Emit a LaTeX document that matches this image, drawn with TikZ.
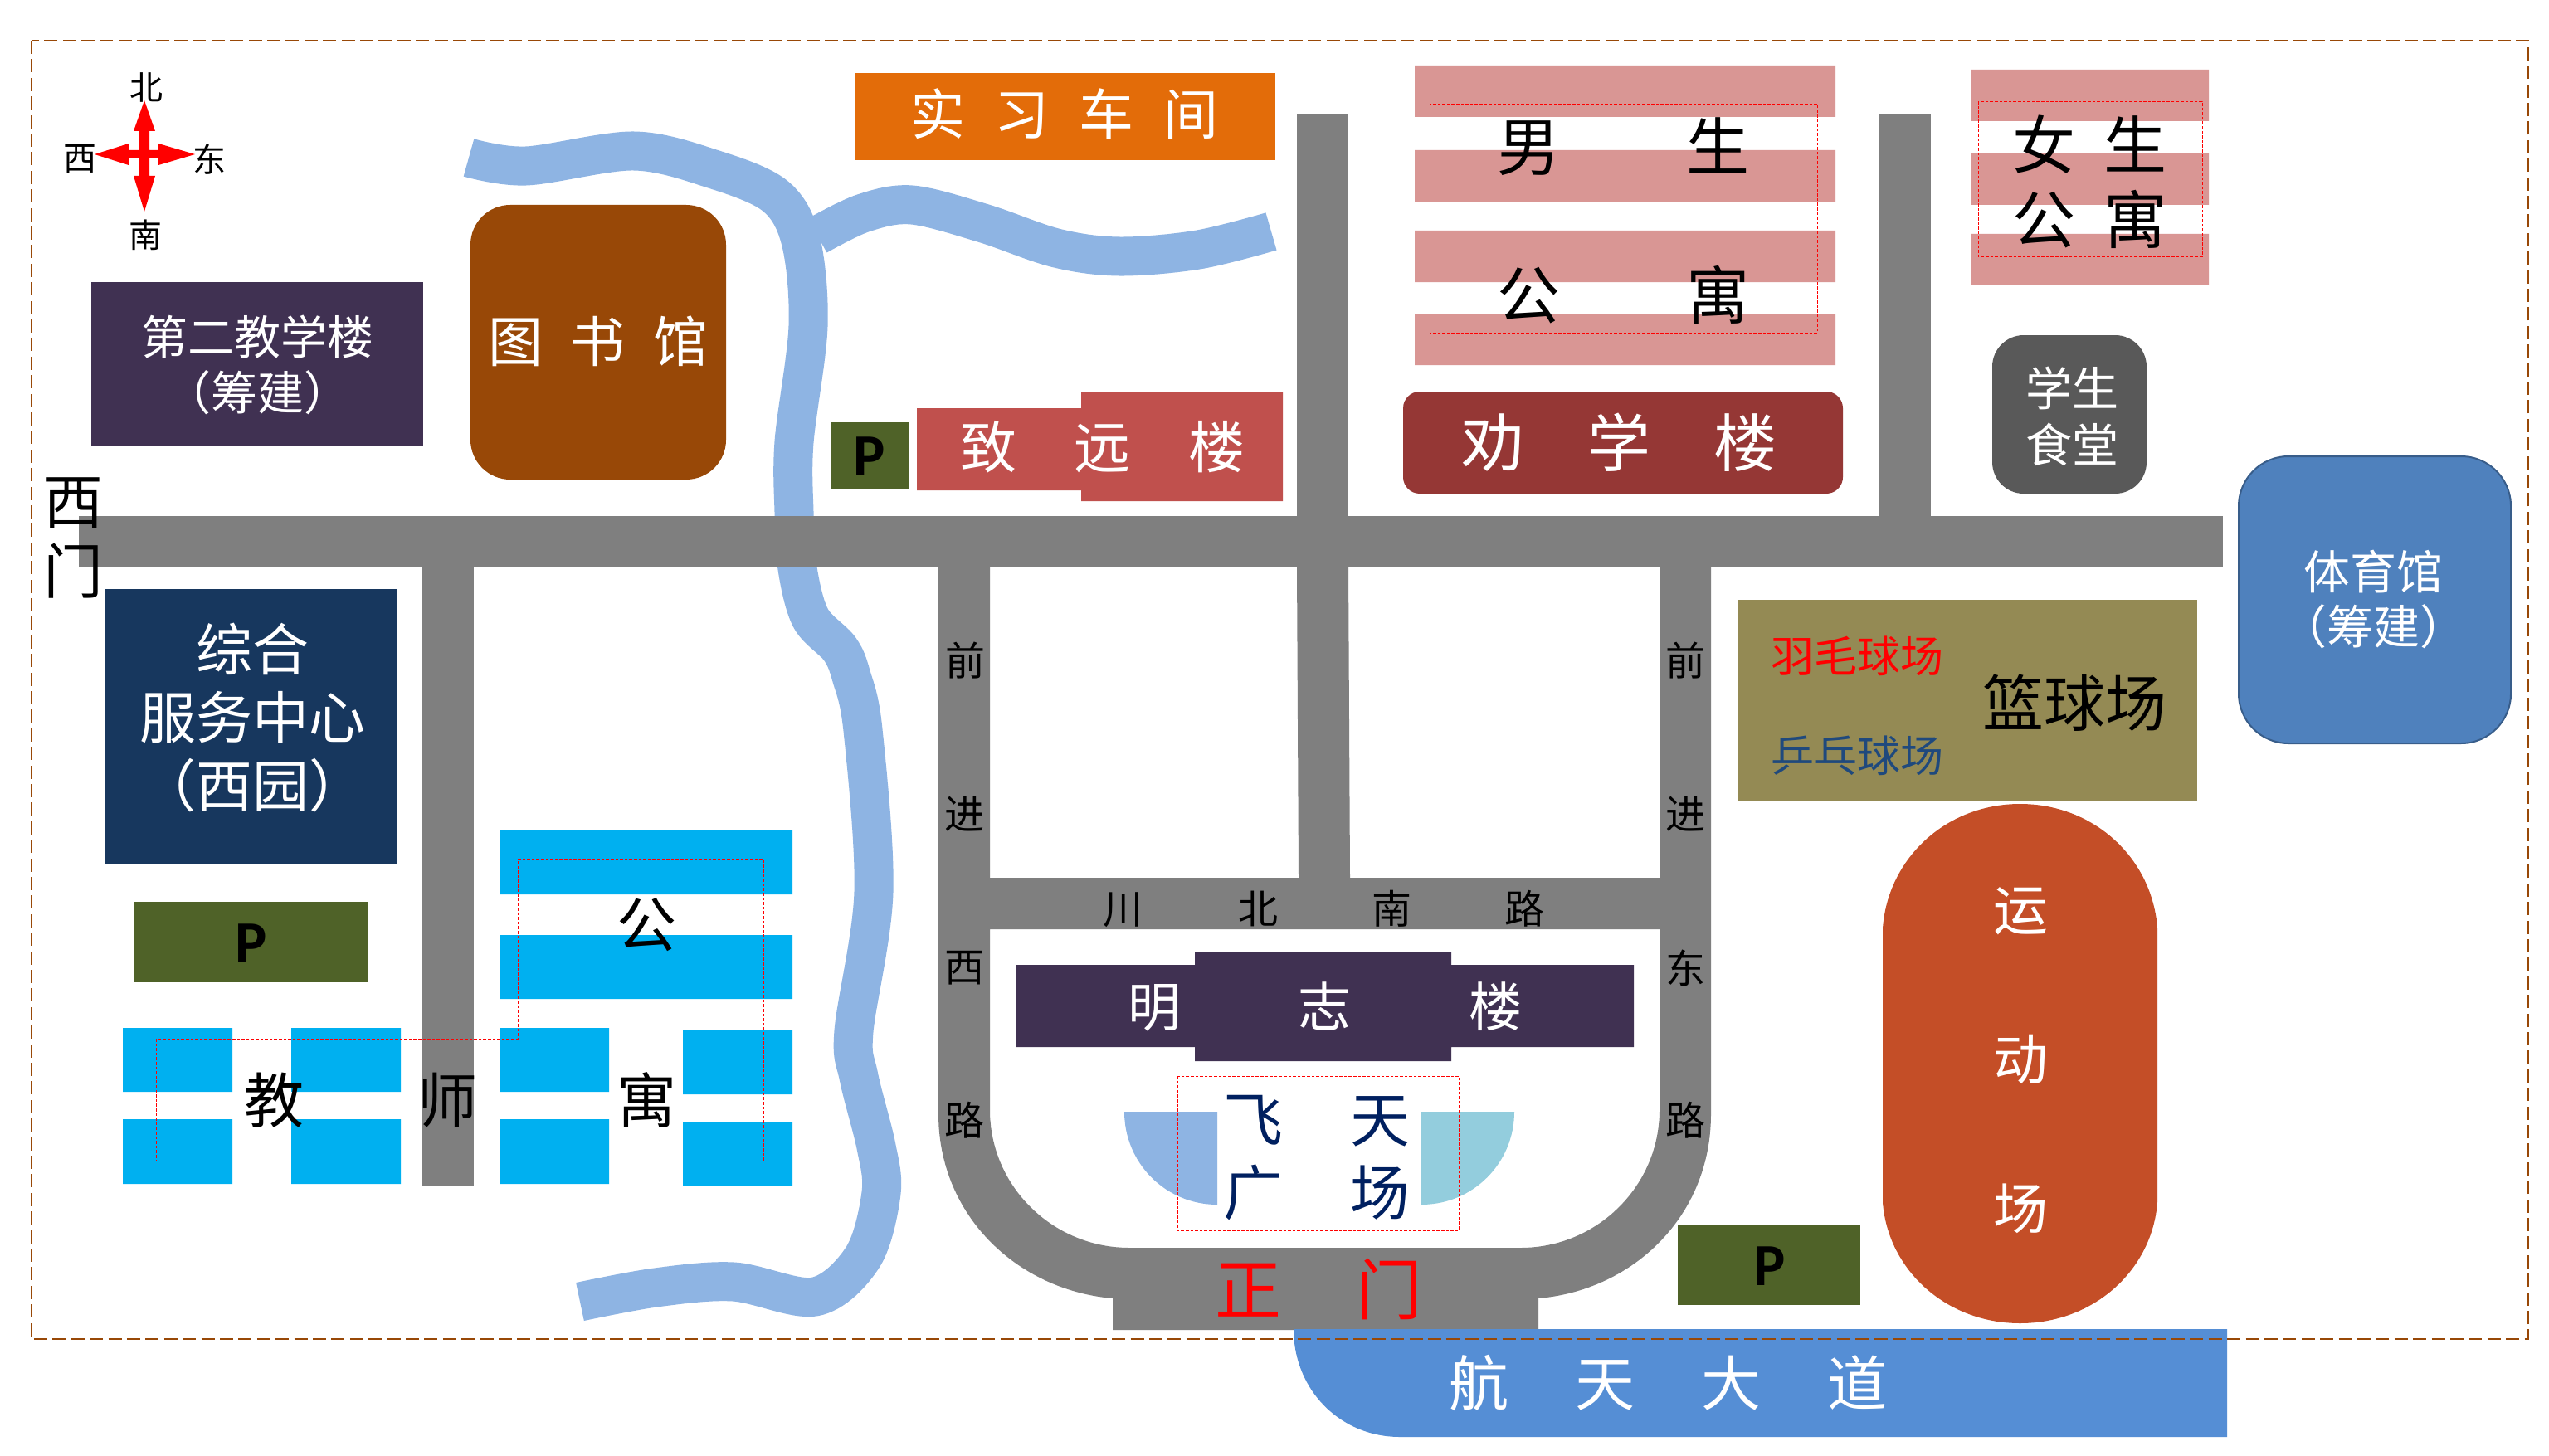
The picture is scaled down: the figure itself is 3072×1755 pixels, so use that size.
\documentclass[tikz,border=0pt]{standalone}
\usepackage{fontspec}
\setmainfont{Noto Sans CJK SC}
\newfontfamily\pfont{Carlito}[BoldFont=Carlito Bold]
\definecolor{roadc}{HTML}{7F7F7F}
\definecolor{riverc}{HTML}{8EB4E3}
\definecolor{edgec}{HTML}{984807}
\definecolor{purplec}{HTML}{403152}
\definecolor{libc}{HTML}{984807}
\definecolor{workc}{HTML}{E36C09}
\definecolor{pinkc}{HTML}{D99694}
\definecolor{redbc}{HTML}{C0504D}
\definecolor{darkrc}{HTML}{953735}
\definecolor{canteenc}{HTML}{595959}
\definecolor{gymc}{HTML}{4F81BD}
\definecolor{gymedge}{HTML}{385D8A}
\definecolor{courtc}{HTML}{948A54}
\definecolor{navyc}{HTML}{17375E}
\definecolor{parkc}{HTML}{4F6228}
\definecolor{skyc}{HTML}{00B0F0}
\definecolor{squarec}{HTML}{002060}
\definecolor{aquac}{HTML}{93CDDD}
\definecolor{avec}{HTML}{558ED5}
\definecolor{fieldc}{HTML}{C44E27}
\definecolor{pingc}{HTML}{1F497D}
\newcommand{\fz}[2]{\fontsize{#1}{#2}\selectfont}
\newcommand{\gp}[1]{\hspace{#1pt}}
\tikzset{
  txt/.style={inner sep=0pt,outer sep=0pt,align=center,text=white},
  blk/.style={inner sep=0pt,outer sep=0pt,align=center,text=black},
  ptxt/.style={inner sep=0pt,outer sep=0pt,text=black,font=\pfont\bfseries\fz{18}{18}},
  river/.style={draw=riverc,line width=11.75pt,line cap=butt,line join=round},
  road/.style={fill=roadc},
  thinbox/.style={draw=red,line width=.18pt,dash pattern=on .9pt off .5pt},
  edgebox/.style={draw=edgec,line width=.5pt,dash pattern=on 4pt off 1.6pt}
}
\begin{document}
\begin{tikzpicture}[x=0.25pt,y=-0.25pt]
\useasboundingbox (0,0) rectangle (3072,1755);
\fill[white] (0,0) rectangle (3072,1755);
% river
\draw[river] plot[smooth,tension=.55] coordinates {(565,190) (634,200) (764,182) (860,204) (934,236) (965,290) (974,393) (957,533) (957,617) (961,685) (977,745) (1012,782) (1026,815) (1040,880) (1053,1075) (1029,1243) (1035,1298) (1056,1382) (1062,1438) (1040,1515) (982,1563) (884,1545) (790,1552) (699,1569)};
\draw[river] plot[smooth,tension=.55] coordinates {(985,284) (1040,257) (1099,247) (1185,269) (1273,299) (1349,309) (1444,301) (1532,279)};
% roads
\fill[road] (95,622) rectangle (2679,684);
\fill[road] (509,684) rectangle (571,1429);
\fill[road] (1563,137) rectangle (1625,622);
\fill[road] (2265,137) rectangle (2327,622);
\fill[road] (1563,684) -- (1625,684) -- (1627,1058) -- (1565,1058) -- cycle;
\fill[road,even odd rule] (1131,684) -- (1193,684) -- (1193,1058) -- (2000,1058) -- (2000,684) -- (2062,684) -- (2062,1343)
  .. controls (2062,1465) and (1969,1555) .. (1854,1565) -- (1854,1603) -- (1341,1603) -- (1341,1565)
  .. controls (1226,1555) and (1131,1465) .. (1131,1343) -- cycle
  (1193,1120) -- (2000,1120) -- (2000,1338) .. controls (2000,1430) and (1924,1504) .. (1833,1504)
  -- (1361,1504) .. controls (1269,1504) and (1193,1430) .. (1193,1338) -- cycle;
% avenue
\fill[avec] (1559,1602) -- (2684,1602) -- (2684,1732) -- (1687,1732) .. controls (1615,1732) and (1559,1675) .. (1559,1602) -- cycle;
% buildings
\fill[purplec] (110,340) rectangle (510,538);
\fill[libc,rounded corners=12pt] (567,247) rectangle (875,578);
\fill[workc] (1030,88) rectangle (1537,193);
\fill[pinkc] (1705,79) rectangle (2212,141) (1705,181) rectangle (2212,243) (1705,278) rectangle (2212,340) (1705,379) rectangle (2212,440);
\fill[pinkc] (2375,84) rectangle (2662,146) (2375,185) rectangle (2662,247) (2375,282) rectangle (2662,343);
\fill[parkc] (1001,509) rectangle (1096,590);
\fill[redbc] (1105,492) rectangle (1303,591) (1303,472) rectangle (1546,604);
\fill[darkrc,rounded corners=5pt] (1691,472) rectangle (2221,595);
\fill[canteenc,rounded corners=9.5pt] (2401,404) rectangle (2587,595);
\draw[fill=gymc,draw=gymedge,line width=.5pt,rounded corners=15pt] (2698,550) rectangle (3026,896);
\fill[courtc] (2095,723) rectangle (2648,965);
\fill[navyc] (126,710) rectangle (479,1041);
\fill[parkc] (161,1087) rectangle (443,1184);
\fill[skyc] (602,1001) rectangle (955,1078) (602,1127) rectangle (955,1204);
\fill[skyc] (148,1239) rectangle (280,1316) (351,1239) rectangle (483,1316) (602,1239) rectangle (734,1316) (823,1241) rectangle (955,1319);
\fill[skyc] (148,1349) rectangle (280,1427) (351,1349) rectangle (483,1427) (602,1349) rectangle (734,1427) (823,1352) rectangle (955,1429);
\fill[purplec] (1224,1163) rectangle (1969,1262) (1440,1147) rectangle (1749,1279);
\fill[riverc] (1355,1340) -- (1467,1340) -- (1467,1452) .. controls (1405,1452) and (1355,1402) .. (1355,1340) -- cycle;
\fill[aquac] (1825,1340) -- (1713,1340) -- (1713,1452) .. controls (1775,1452) and (1825,1402) .. (1825,1340) -- cycle;
\fill[parkc] (2022,1477) rectangle (2242,1573);
\fill[fieldc] (2269,1119) .. controls (2275,1035) and (2345,969) .. (2434.5,969) .. controls (2524,969) and (2594,1035) .. (2600,1119)
  -- (2600,1449) .. controls (2594,1530) and (2524,1595) .. (2434.5,1595) .. controls (2345,1595) and (2275,1530) .. (2269,1449) -- cycle;
% compass
\fill[red] (174,121) -- (187,158) -- (180,158) -- (180,181) -- (191,181) -- (191,173) -- (235,186) -- (191,199) -- (191,191) -- (180,191) -- (180,212) -- (187,212) -- (174,255) -- (161,212) -- (168,212) -- (168,191) -- (155,191) -- (155,199) -- (114,186) -- (155,173) -- (155,181) -- (168,181) -- (168,158) -- (161,158) -- cycle;
% dashed boxes
\draw[thinbox] (1723,125) rectangle (2190,401);
\draw[thinbox] (2384,122) rectangle (2654,309);
\draw[thinbox] (188,1252) -- (188,1399) -- (920,1399) -- (920,1036) -- (624,1036) -- (624,1252) -- cycle;
\draw[thinbox] (1419,1297) rectangle (1758,1483);
\draw[edgebox] (38,49) rectangle (3047,1614);
% texts
\node[blk,font=\fz{10}{10}] (cn) at (176,105) {北};
\node[blk,font=\fz{10}{10}] (cs) at (175,283) {南};
\node[blk,font=\fz{10}{10}] (cw) at (97,192) {西};
\node[blk,font=\fz{10}{10}] (ce) at (252,192) {东};
\node[blk,font=\fz{18}{21}] (westgate) at (88,648) {西\\门};
\node[txt,font=\fz{14}{16.8}] (teach2) at (310,440) {第二教学楼\\（筹建）};
\node[txt,font=\fz{16.5}{16.5}] (lib) at (721,411) {图\gp{8.5}书\gp{8.5}馆};
\node[txt,font=\fz{16.5}{16.5}] (work) at (1283,137) {实\gp{9}习\gp{9}车\gp{9}间};
\node[blk,font=\fz{19}{19}] (boys1) at (1956,177) {男\gp{38}生};
\node[blk,font=\fz{19}{19}] (boys2) at (1956,355) {公\gp{38}寓};
\node[blk,font=\fz{19}{19}] (girls) at (2518,219) {女\gp{8.5}生\\[3.5pt]公\gp{8.5}寓};
\node[ptxt] (p1) at (1048,550) {P};
\node[txt,font=\fz{17}{17}] (zhiyuan) at (1329,539) {致\gp{17.5}远\gp{17.5}楼};
\node[txt,font=\fz{19}{19}] (quanxue) at (1951,533) {劝\gp{19}学\gp{19}楼};
\node[txt,font=\fz{14}{16.8}] (canteen) at (2497,502) {学生\\食堂};
\node[txt,font=\fz{14}{16.5}] (gym) at (2860,722) {体育馆\\（筹建）};
\node[text=red,inner sep=0pt,font=\fz{13}{13}] (badm) at (2238,791) {羽毛球场};
\node[text=pingc,inner sep=0pt,font=\fz{13}{13}] (ping) at (2238,911) {乒乓球场};
\node[blk,font=\fz{18.5}{18.5}] (bask) at (2500,847) {篮球场};
\node[txt,font=\fz{17}{20.5}] (service) at (304,865) {综合\\服务中心\\（西园）};
\node[ptxt] (p2) at (303,1137) {P};
\node[blk,font=\fz{18}{18}] (t1) at (779,1115) {公};
\node[blk,font=\fz{18}{18}] (t2) at (330,1326) {教};
\node[blk,font=\fz{18}{18}] (t3) at (539,1326) {师};
\node[blk,font=\fz{18}{18}] (t4) at (779,1326) {寓};
\node[txt,font=\fz{16}{16}] (mingzhi) at (1597,1213) {明\gp{35.5}志\gp{35.5}楼};
\node[text=squarec,inner sep=0pt,align=center,font=\fz{18}{22}] (feitian) at (1587,1396) {飞\gp{20.5}天\\广\gp{20.5}场};
\node[blk,font=\fz{12}{12}] (l1) at (1163,796) {前};
\node[blk,font=\fz{12}{12}] (l2) at (1162,981) {进};
\node[blk,font=\fz{12}{12}] (l3) at (1162,1167) {西};
\node[blk,font=\fz{12}{12}] (l4) at (1162,1350) {路};
\node[blk,font=\fz{12}{12}] (r1) at (2031,796) {前};
\node[blk,font=\fz{12}{12}] (r2) at (2031,981) {进};
\node[blk,font=\fz{12}{12}] (r3) at (2031,1167) {东};
\node[blk,font=\fz{12}{12}] (r4) at (2031,1350) {路};
\node[blk,font=\fz{12}{12}] (cb) at (1595,1095) {川\gp{29}北\gp{28}南\gp{28}路};
\node[text=red,inner sep=0pt,font=\fz{20}{20}] (gate) at (1589,1554) {正\gp{22.5}门};
\node[txt,font=\fz{18}{18}] (ave) at (2010,1667) {航\gp{20}天\gp{20}大\gp{20}道};
\node[txt,font=\fz{16.5}{16.5}] (field) at (2435,1278) {运\\[28.5pt]动\\[28.5pt]场};
\node[ptxt] (p3) at (2133,1526) {P};
\end{tikzpicture}
\end{document}
